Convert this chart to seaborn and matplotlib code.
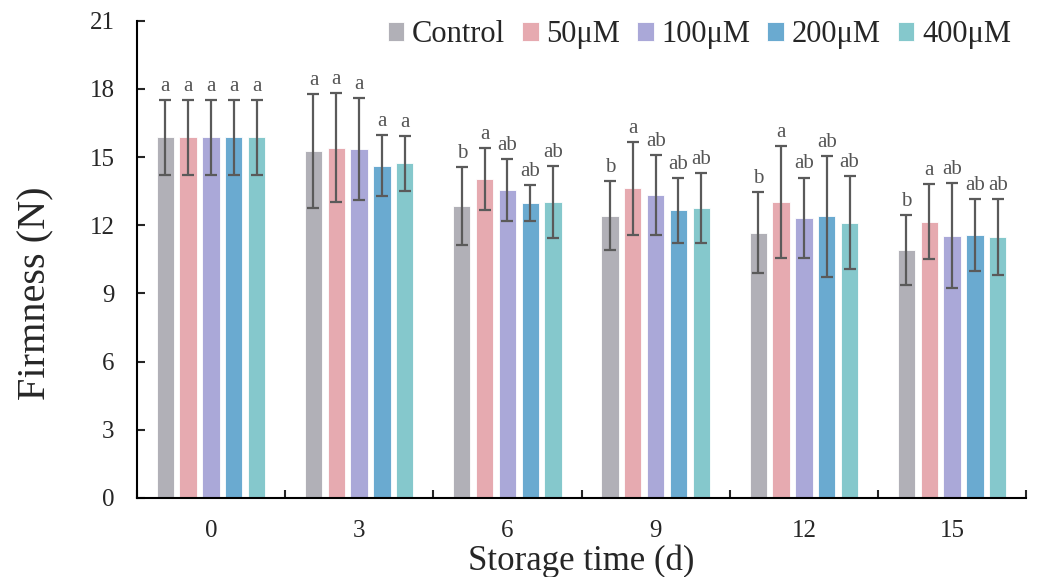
import matplotlib
matplotlib.use("Agg")
import matplotlib.pyplot as plt
import numpy as np
import pandas as pd
import seaborn as sns

days = ["0", "3", "6", "9", "12", "15"]
treatments = ["Control", "50μM", "100μM", "200μM", "400μM"]
colors = ["#b1b0b7", "#e6aab0", "#aaa8d8", "#6aaad0", "#85c8cc"]

firm_control = [15.87, 15.28, 12.85, 12.42, 11.68, 10.90]
firm_50 = [15.87, 15.42, 14.03, 13.62, 13.03, 12.16]
firm_100 = [15.87, 15.35, 13.57, 13.34, 12.34, 11.53]
firm_200 = [15.87, 14.62, 12.98, 12.66, 12.40, 11.57]
firm_400 = [15.87, 14.72, 13.04, 12.75, 12.12, 11.48]

sd_control = [1.65, 2.50, 1.72, 1.52, 1.80, 1.54]
sd_50 = [1.65, 2.40, 1.35, 2.05, 2.47, 1.64]
sd_100 = [1.65, 2.25, 1.36, 1.75, 1.76, 2.31]
sd_200 = [1.65, 1.35, 0.80, 1.43, 2.66, 1.57]
sd_400 = [1.65, 1.22, 1.58, 1.54, 2.05, 1.66]

sig_control = ["a", "a", "b", "b", "b", "b"]
sig_50 = ["a", "a", "a", "a", "a", "a"]
sig_100 = ["a", "a", "ab", "ab", "ab", "ab"]
sig_200 = ["a", "a", "ab", "ab", "ab", "ab"]
sig_400 = ["a", "a", "ab", "ab", "ab", "ab"]

means = [firm_control, firm_50, firm_100, firm_200, firm_400]
sds = [sd_control, sd_50, sd_100, sd_200, sd_400]
sigs = [sig_control, sig_50, sig_100, sig_200, sig_400]

rows = []
for t, vals in zip(treatments, means):
    for d, v in zip(days, vals):
        rows.append({"day": d, "treatment": t, "firmness": v})
df = pd.DataFrame(rows)

sns.set_style("ticks")
plt.rcParams["font.family"] = ["Liberation Serif", "DejaVu Serif"]

fig = plt.figure(figsize=(10.44, 5.77), dpi=100)
ax = fig.add_axes([0.131, 0.137, 0.852, 0.827])

sns.barplot(data=df, x="day", y="firmness", hue="treatment", order=days,
            hue_order=treatments, palette=colors, width=0.77, gap=0.24,
            errorbar=None, saturation=1, edgecolor="white", linewidth=0.6, ax=ax)

for cont, sd, sig in zip(ax.containers, sds, sigs):
    xs = [p.get_x() + p.get_width() / 2 for p in cont.patches]
    ys = [p.get_height() for p in cont.patches]
    ax.errorbar(xs, ys, yerr=sd, fmt="none", ecolor="#5a5a5a", elinewidth=1.6,
                capsize=4, capthick=1.6, zorder=5)
    for x, y, e, s in zip(xs, ys, sd, sig):
        ax.text(x, y + e + 0.18, s, ha="center", va="bottom", fontsize=15,
                color="#555555")

ax.set_xlim(-0.5, 5.5)
ax.set_ylim(0, 21)
ax.set_yticks(np.arange(0, 22, 3))
ax.set_xticks(np.arange(-0.5, 6, 1), minor=True)
ax.tick_params(axis="x", which="major", length=0, labelsize=18, pad=16)
ax.tick_params(axis="x", which="minor", direction="in", length=6, width=1.5)
ax.tick_params(axis="y", direction="in", length=6, width=1.5, labelsize=18, pad=16)
for s in ["left", "bottom"]:
    ax.spines[s].set_linewidth(1.5)
    ax.spines[s].set_color("black")
sns.despine(ax=ax)

ax.set_xlabel("Storage time (d)", fontsize=25)
ax.set_ylabel("Firmness (N)", fontsize=29)
ax.xaxis.set_label_coords(0.5, -0.133, transform=ax.transAxes)
ax.yaxis.set_label_coords(-0.113, 0.43, transform=ax.transAxes)
ax.xaxis.label.set_va("center")
ax.yaxis.label.set_va("center")

handles, labels = ax.get_legend_handles_labels()
ax.legend(handles, labels, ncol=5, loc="center right", bbox_to_anchor=(0.983, 0.971),
          frameon=False, fontsize=22, handlelength=0.55, handleheight=0.55,
          handletextpad=0.25, columnspacing=0.55, borderpad=0, borderaxespad=0)

fig.savefig("out.png", dpi=100)
